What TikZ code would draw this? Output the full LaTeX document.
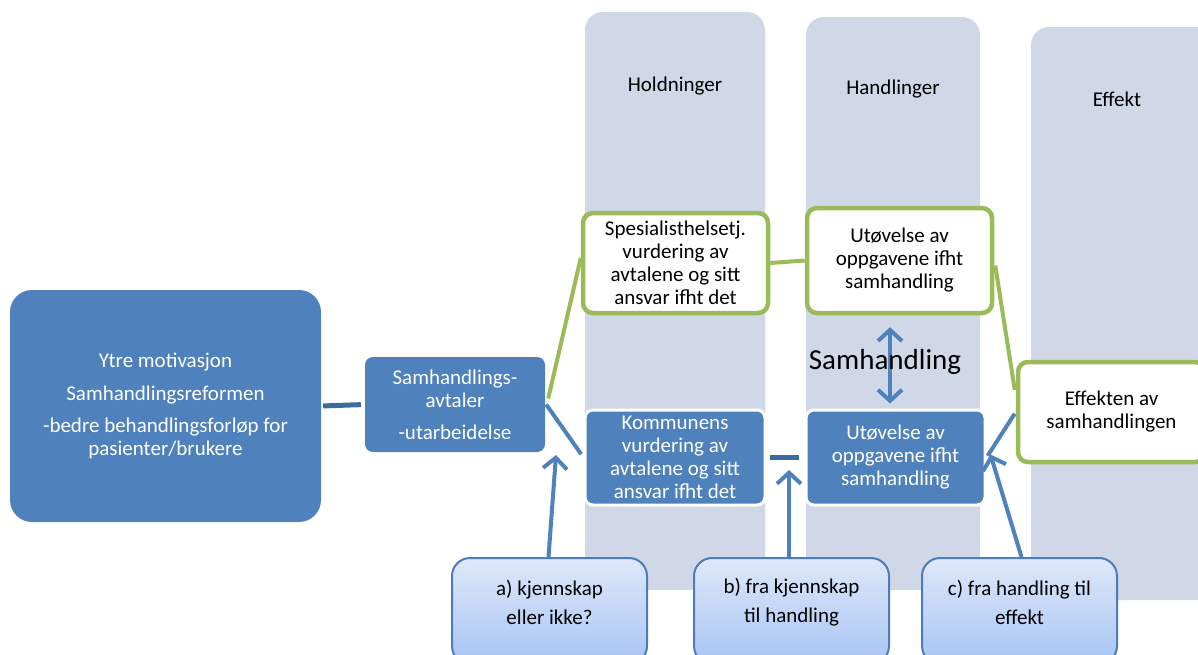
\documentclass[tikz,border=0pt]{standalone}
\usepackage{fontspec}
\setmainfont{Carlito}
\usetikzlibrary{arrows.meta}

\definecolor{boxblue}{HTML}{4F81BD}
\definecolor{linkblue}{HTML}{3D6A9C}
\definecolor{colgray}{HTML}{D0D8E8}
\definecolor{leafgreen}{HTML}{9BBB59}
\definecolor{tiptop}{HTML}{DEE8F9}
\definecolor{tipbot}{HTML}{A8C4F4}
\definecolor{tipedge}{HTML}{4A7DBA}

\begin{document}
\begin{tikzpicture}[x=1pt,y=-1pt,
  every node/.style={inner sep=0pt, align=center, font=\fontsize{21}{23}\selectfont},
  sz/.style 2 args={minimum width=#1pt, minimum height=#2pt},
  column/.style={fill=colgray, rounded corners=18pt},
  bluebox/.style={fill=boxblue, draw=white, line width=3pt, rounded corners=8pt, text=white},
  greenbox/.style={fill=white, draw=leafgreen, line width=4.5pt, rounded corners=10pt},
  tipbox/.style={top color=tiptop, bottom color=tipbot, draw=tipedge, line width=2pt, rounded corners=18pt},
  greenlink/.style={draw=leafgreen, line width=4pt},
  bluelink/.style={draw=boxblue, line width=4pt},
  darklink/.style={draw=linkblue, line width=5pt},
  barb/.style={draw=boxblue, line width=4pt, -{Straight Barb[length=11pt,width=24pt]}},
  dbarb/.style={draw=boxblue, line width=4pt, {Straight Barb[length=11pt,width=24pt]}-{Straight Barb[length=11pt,width=24pt]}}]

\useasboundingbox (0,0) rectangle (1198,654);

% background columns
\node[column, sz={180}{578}] (col1) at (675,301) {};
\node[column, sz={174}{573}] (col2) at (893,303.5) {};
\node[column, sz={184}{573}] (col3) at (1123,313.5) {};
\node (h1) at (675,86) {Holdninger};
\node (h2) at (893,89) {Handlinger};
\node (h3) at (1117,99) {Effekt};

% left part
\node[fill=boxblue, rounded corners=22pt, text=white, sz={311}{232}] (big) at (165.5,406)
  {Ytre motivasjon\\[10pt]Samhandlingsreformen\\[9pt]-bedre behandlingsforløp for\\pasienter/brukere};
\node[fill=boxblue, rounded corners=8pt, text=white, sz={180}{95}] (samh) at (455,404.5)
  {Samhandlings-\\avtaler\\[9pt]-utarbeidelse};

% upper (green) row
\node[greenbox, sz={185}{100}] (spes) at (675.5,263)
  {Spesialisthelsetj.\\vurdering av\\avtalene og sitt\\ansvar ifht det};
\node[greenbox, sz={185}{105}] (utg) at (899.5,260.5)
  {Utøvelse av\\oppgavene ifht\\samhandling};
\node[greenbox, sz={187}{100}] (eff) at (1111.5,412)
  {Effekten av\\samhandlingen};

% lower (blue) row
\node[bluebox, sz={180}{95}] (komm) at (675,457.5)
  {Kommunens\\vurdering av\\avtalene og sitt\\ansvar ifht det};
\node[bluebox, sz={179}{95}] (utb) at (895.5,457.5)
  {Utøvelse av\\oppgavene ifht\\samhandling};

% question boxes along the bottom
\node[tipbox, sz={195}{106}] (qa) at (549.5,611) {};
\node[tipbox, sz={195}{106}] (qb) at (791.5,611) {};
\node[tipbox, sz={195}{106}] (qc) at (1019.5,611) {};
\node (ta) at (549.5,602.5) {a) kjennskap\\[6pt]eller ikke?};
\node (tb) at (791.5,602.5) {b) fra kjennskap\\[6pt]til handling};
\node (tc) at (1019.5,602.5) {c) fra handling til\\[6pt]effekt};

% free arrow ends
\coordinate (atip) at (556,455);
\coordinate (btip) at (789,470);
\coordinate (sx) at (890,0);

% connectors
\draw[darklink, shorten <=2pt, shorten >=4pt] (big.east) -- (samh.west);
\draw[greenlink] ([shift={(3,-6)}]samh.east) -- ([shift={(0,-5)}]spes.west);
\draw[greenlink] (spes.east) -- (utg.west);
\draw[greenlink] ([shift={(1,5)}]utg.east) -- ([shift={(-1,-22)}]eff.west);
\draw[bluelink, shorten >=4pt] ([shift={(1,0)}]samh.east) -- (komm.west);
\draw[darklink, shorten <=3pt, shorten >=6pt] (komm.east) -- (utb.west);
\draw[bluelink, shorten <=2pt, shorten >=2pt] (utb.east) -- (eff.west);
\draw[barb] ([xshift=-1pt]qa.north) -- (atip);
\draw[barb] (qb.north -| btip) -- (btip);
\draw[barb] ([xshift=2pt]qc.north) -- ([shift={(4,-3)}]utb.east);
\draw[dbarb, shorten <=12pt, shorten >=5pt] (utg.south -| sx) -- (utb.north -| sx);

\node[font=\fontsize{29}{32}\selectfont] (samlabel) at (885,362) {Samhandling};

\end{tikzpicture}
\end{document}
